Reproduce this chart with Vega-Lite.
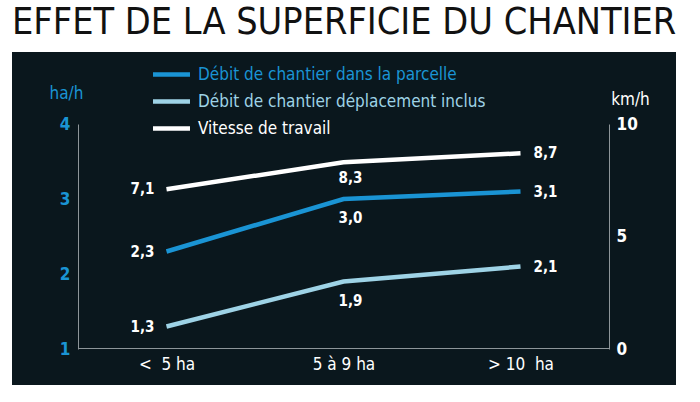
{
  "$schema": "https://vega.github.io/schema/vega-lite/v6.json",
  "autosize": "none",
  "width": 664,
  "height": 333,
  "padding": {"left": 12, "top": 52, "right": 24, "bottom": 17},
  "background": "white",
  "title": {
    "text": "EFFET DE LA SUPERFICIE DU CHANTIER",
    "anchor": "start",
    "frame": "group",
    "fontSize": 37.5,
    "font": "DejaVu Sans Condensed",
    "fontWeight": "normal",
    "color": "#111111",
    "baseline": "alphabetic",
    "offset": 15,
    "dy": 34
  },
  "config": {
    "font": "DejaVu Sans Condensed",
    "view": {"fill": "#0a171d", "stroke": null},
    "locale": {
      "number": {"decimal": ",", "thousands": " ", "grouping": [3], "currency": ["", " €"]}
    }
  },
  "data": {
    "values": [
      {"cat": "<\u00a0 5 ha", "serie": "Débit de chantier dans la parcelle", "value": 2.3},
      {"cat": "5 à 9 ha", "serie": "Débit de chantier dans la parcelle", "value": 3.0},
      {"cat": "> 10\u00a0 ha", "serie": "Débit de chantier dans la parcelle", "value": 3.1},
      {"cat": "<\u00a0 5 ha", "serie": "Débit de chantier déplacement inclus", "value": 1.3},
      {"cat": "5 à 9 ha", "serie": "Débit de chantier déplacement inclus", "value": 1.9},
      {"cat": "> 10\u00a0 ha", "serie": "Débit de chantier déplacement inclus", "value": 2.1},
      {"cat": "<\u00a0 5 ha", "serie": "Vitesse de travail", "value": 7.1},
      {"cat": "5 à 9 ha", "serie": "Vitesse de travail", "value": 8.3},
      {"cat": "> 10\u00a0 ha", "serie": "Vitesse de travail", "value": 8.7}
    ]
  },
  "encoding": {
    "x": {
      "field": "cat",
      "type": "ordinal",
      "sort": null,
      "scale": {"type": "point", "range": [66, 597], "padding": 0.5},
      "axis": {
        "orient": "bottom",
        "offset": -37,
        "title": null,
        "ticks": false,
        "grid": false,
        "labelAngle": 0,
        "labelColor": "#ffffff",
        "labelFontSize": 17,
        "labelPadding": 8,
        "domainColor": "#8d9599",
        "domainWidth": 1
      }
    }
  },
  "layer": [
    {
      "transform": [{"filter": "datum.serie !== 'Vitesse de travail'"}],
      "encoding": {
        "y": {
          "field": "value",
          "type": "quantitative",
          "scale": {"domain": [1, 4], "range": [297, 72], "nice": false, "zero": false},
          "axis": {
            "orient": "left",
            "offset": -66,
            "values": [1, 2, 3, 4],
            "ticks": false,
            "grid": false,
            "domainColor": "#8d9599",
            "domainWidth": 1,
            "labelColor": "#1a94d4",
            "labelFontSize": 17,
            "labelFontWeight": "bold",
            "labelPadding": 8,
            "title": "ha/h",
            "titleAngle": 0,
            "titleColor": "#1a94d4",
            "titleFontSize": 17,
            "titleFontWeight": "normal",
            "titleAlign": "center",
            "titleBaseline": "alphabetic",
            "titleX": -12,
            "titleY": 46
          }
        }
      },
      "layer": [
        {
          "mark": {"type": "line", "strokeWidth": 4.5},
          "encoding": {
            "color": {
              "field": "serie",
              "type": "nominal",
              "scale": {
                "domain": ["Débit de chantier dans la parcelle", "Débit de chantier déplacement inclus", "Vitesse de travail"],
                "range": ["#1a94d4", "#9ed3e6", "#ffffff"]
              },
              "legend": {
                "orient": "none",
                "legendX": 150,
                "legendY": 13,
                "title": null,
                "symbolType": "M-2,-0.24L2,-0.24L2,0.24L-2,0.24Z",
                "symbolSize": 342,
                "symbolStrokeWidth": 0,
                "labelFontSize": 17,
                "labelOffset": 17,
                "labelLimit": 400,
                "rowPadding": 9,
                "encode": {
                  "labels": {"update": {"fill": {"scale": "color", "field": "value"}}},
                  "symbols": {"update": {"fill": {"scale": "color", "field": "value"}, "fillOpacity": {"value": 1}, "strokeWidth": {"value": 0}}}
                }
              }
            }
          }
        },
        {
          "transform": [{"filter": "datum.cat === '<\u00a0 5 ha'"}],
          "mark": {"type": "text", "align": "right", "baseline": "middle", "dx": -12, "fontSize": 15, "fontWeight": "bold", "color": "#ffffff"},
          "encoding": {"text": {"field": "value", "type": "quantitative", "format": ".1f"}}
        },
        {
          "transform": [{"filter": "datum.cat === '5 à 9 ha'"}],
          "mark": {"type": "text", "align": "center", "baseline": "middle", "dx": 7, "dy": 19, "fontSize": 15, "fontWeight": "bold", "color": "#ffffff"},
          "encoding": {"text": {"field": "value", "type": "quantitative", "format": ".1f"}}
        },
        {
          "transform": [{"filter": "datum.cat === '> 10\u00a0 ha'"}],
          "mark": {"type": "text", "align": "left", "baseline": "middle", "dx": 13, "fontSize": 15, "fontWeight": "bold", "color": "#ffffff"},
          "encoding": {"text": {"field": "value", "type": "quantitative", "format": ".1f"}}
        }
      ]
    },
    {
      "transform": [{"filter": "datum.serie === 'Vitesse de travail'"}],
      "encoding": {
        "y": {
          "field": "value",
          "type": "quantitative",
          "scale": {"domain": [0, 10], "range": [297, 72], "nice": false},
          "axis": {
            "orient": "right",
            "offset": -67,
            "values": [0, 5, 10],
            "ticks": false,
            "grid": false,
            "domainColor": "#8d9599",
            "domainWidth": 1,
            "labelColor": "#ffffff",
            "labelFontSize": 17,
            "labelFontWeight": "bold",
            "labelPadding": 7,
            "title": "km/h",
            "titleAngle": 0,
            "titleColor": "#ffffff",
            "titleFontSize": 17,
            "titleFontWeight": "normal",
            "titleAlign": "center",
            "titleBaseline": "alphabetic",
            "titleX": 21,
            "titleY": 52
          }
        }
      },
      "layer": [
        {
          "mark": {"type": "line", "strokeWidth": 4.5},
          "encoding": {
            "color": {"field": "serie", "type": "nominal"}
          }
        },
        {
          "transform": [{"filter": "datum.cat === '<\u00a0 5 ha'"}],
          "mark": {"type": "text", "align": "right", "baseline": "middle", "dx": -12, "fontSize": 15, "fontWeight": "bold", "color": "#ffffff"},
          "encoding": {"text": {"field": "value", "type": "quantitative", "format": ".1f"}}
        },
        {
          "transform": [{"filter": "datum.cat === '5 à 9 ha'"}],
          "mark": {"type": "text", "align": "center", "baseline": "middle", "dx": 7, "dy": 16, "fontSize": 15, "fontWeight": "bold", "color": "#ffffff"},
          "encoding": {"text": {"field": "value", "type": "quantitative", "format": ".1f"}}
        },
        {
          "transform": [{"filter": "datum.cat === '> 10\u00a0 ha'"}],
          "mark": {"type": "text", "align": "left", "baseline": "middle", "dx": 13, "fontSize": 15, "fontWeight": "bold", "color": "#ffffff"},
          "encoding": {"text": {"field": "value", "type": "quantitative", "format": ".1f"}}
        }
      ]
    }
  ],
  "resolve": {"scale": {"y": "independent"}}
}
